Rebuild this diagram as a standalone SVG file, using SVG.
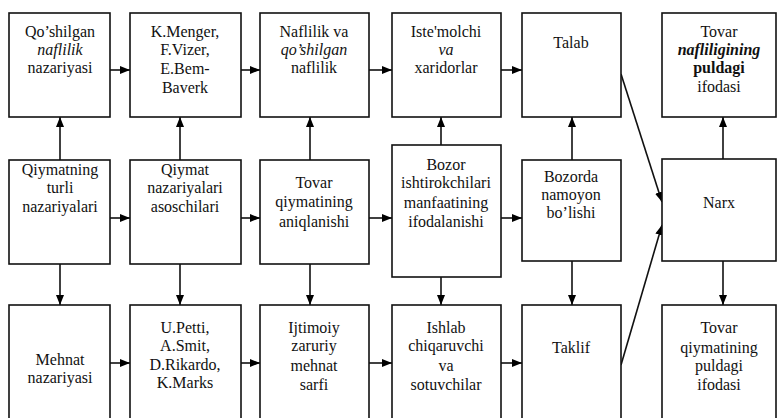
<svg xmlns="http://www.w3.org/2000/svg" width="778" height="418" viewBox="0 0 778 418">
<defs>
<marker id="ah" viewBox="0 0 10 8" refX="10" refY="4" markerWidth="10" markerHeight="8" markerUnits="userSpaceOnUse" orient="auto">
<path d="M0,0 L10,4 L0,8 Z" fill="#000"/>
</marker>
<style>
.box{fill:#fff;stroke:#111;stroke-width:1.6}
.t{font-family:Liberation Serif,DejaVu Serif,Times New Roman,Times,serif;font-size:16px;fill:#111;text-anchor:middle}
.b{font-weight:bold}
.i{font-style:italic}
.c{stroke:#111;stroke-width:1.6;fill:none;marker-end:url(#ah)}
</style>
</defs>
<rect width="778" height="418" fill="#fff"/>
<g id="connectors">
<line class="c" x1="110" y1="70" x2="130" y2="70"/>
<line class="c" x1="241" y1="70" x2="260" y2="70"/>
<line class="c" x1="369" y1="70" x2="392" y2="70"/>
<line class="c" x1="501" y1="70" x2="522" y2="70"/>
<line class="c" x1="110" y1="218" x2="130" y2="218"/>
<line class="c" x1="241" y1="218" x2="260" y2="218"/>
<line class="c" x1="369" y1="218" x2="392" y2="218"/>
<line class="c" x1="501" y1="218" x2="522" y2="218"/>
<line class="c" x1="110" y1="363" x2="130" y2="363"/>
<line class="c" x1="241" y1="363" x2="260" y2="363"/>
<line class="c" x1="369" y1="363" x2="392" y2="363"/>
<line class="c" x1="501" y1="363" x2="522" y2="363"/>
<line class="c" x1="60" y1="160" x2="60" y2="117"/>
<line class="c" x1="180" y1="160" x2="180" y2="117"/>
<line class="c" x1="310" y1="160" x2="310" y2="117"/>
<line class="c" x1="441" y1="145" x2="441" y2="117"/>
<line class="c" x1="572" y1="160" x2="572" y2="117"/>
<line class="c" x1="723" y1="159" x2="723" y2="117"/>
<line class="c" x1="60" y1="264" x2="60" y2="305"/>
<line class="c" x1="180" y1="264" x2="180" y2="305"/>
<line class="c" x1="310" y1="264" x2="310" y2="305"/>
<line class="c" x1="441" y1="277" x2="441" y2="305"/>
<line class="c" x1="572" y1="261" x2="572" y2="305"/>
<line class="c" x1="723" y1="261" x2="723" y2="305"/>
<line class="c" x1="621" y1="74" x2="662" y2="202"/>
<line class="c" x1="621" y1="365" x2="662" y2="225"/>
</g>
<g id="nodes">
<g id="n1"><rect class="box" x="9" y="13" width="101" height="104"/>
<text class="t" x="60" y="37">Qo’shilgan</text><text class="t i" x="60" y="55">naflilik</text><text class="t" x="60" y="73">nazariyasi</text></g>
<g id="n2"><rect class="box" x="130" y="13" width="111" height="104"/>
<text class="t" x="185" y="37">K.Menger,</text><text class="t" x="185" y="55">F.Vizer,</text><text class="t" x="185" y="74">E.Bem-</text><text class="t" x="185" y="93">Baverk</text></g>
<g id="n3"><rect class="box" x="260" y="13" width="109" height="104"/>
<text class="t" x="314" y="37">Naflilik va</text><text class="t i" x="314" y="55">qo’shilgan</text><text class="t" x="314" y="73">naflilik</text></g>
<g id="n4"><rect class="box" x="392" y="13" width="109" height="104"/>
<text class="t" x="446" y="37">Iste'molchi</text><text class="t i" x="446" y="55">va</text><text class="t" x="446" y="73">xaridorlar</text></g>
<g id="n5"><rect class="box" x="522" y="13" width="99" height="104"/>
<text class="t" x="571" y="48">Talab</text></g>
<g id="n6"><rect class="box" x="662" y="13" width="114" height="104"/>
<text class="t" x="719" y="37">Tovar</text><text class="t i b" x="719" y="55">nafliligining</text><text class="t b" x="719" y="73">puldagi</text><text class="t" x="719" y="92">ifodasi</text></g>
<g id="n7"><rect class="box" x="9" y="160" width="101" height="104"/>
<text class="t" x="60" y="175">Qiymatning</text><text class="t" x="60" y="193">turli</text><text class="t" x="60" y="212">nazariyalari</text></g>
<g id="n8"><rect class="box" x="130" y="160" width="111" height="104"/>
<text class="t" x="185" y="175">Qiymat</text><text class="t" x="185" y="193">nazariyalari</text><text class="t" x="185" y="212">asoschilari</text></g>
<g id="n9"><rect class="box" x="260" y="160" width="109" height="104"/>
<text class="t" x="314" y="188">Tovar</text><text class="t" x="314" y="207">qiymatining</text><text class="t" x="314" y="227">aniqlanishi</text></g>
<g id="n10"><rect class="box" x="392" y="145" width="109" height="132"/>
<text class="t" x="446" y="170">Bozor</text><text class="t" x="446" y="188">ishtirokchilari</text><text class="t" x="446" y="208">manfaatining</text><text class="t" x="446" y="227">ifodalanishi</text></g>
<g id="n11"><rect class="box" x="522" y="160" width="99" height="101"/>
<text class="t" x="571" y="182">Bozorda</text><text class="t" x="571" y="200">namoyon</text><text class="t" x="571" y="218">bo’lishi</text></g>
<g id="n12"><rect class="box" x="662" y="159" width="114" height="102"/>
<text class="t" x="719" y="208">Narx</text></g>
<g id="n13"><rect class="box" x="9" y="305" width="101" height="120"/>
<text class="t" x="60" y="365">Mehnat</text><text class="t" x="60" y="383">nazariyasi</text></g>
<g id="n14"><rect class="box" x="130" y="305" width="111" height="120"/>
<text class="t" x="185" y="333">U.Petti,</text><text class="t" x="185" y="351">A.Smit,</text><text class="t" x="185" y="370">D.Rikardo,</text><text class="t" x="185" y="388">K.Marks</text></g>
<g id="n15"><rect class="box" x="260" y="305" width="109" height="120"/>
<text class="t" x="314" y="333">Ijtimoiy</text><text class="t" x="314" y="351">zaruriy</text><text class="t" x="314" y="371">mehnat</text><text class="t" x="314" y="390">sarfi</text></g>
<g id="n16"><rect class="box" x="392" y="305" width="109" height="120"/>
<text class="t" x="446" y="333">Ishlab</text><text class="t" x="446" y="351">chiqaruvchi</text><text class="t" x="446" y="371">va</text><text class="t" x="446" y="390">sotuvchilar</text></g>
<g id="n17"><rect class="box" x="522" y="305" width="99" height="120"/>
<text class="t" x="571" y="353">Taklif</text></g>
<g id="n18"><rect class="box" x="662" y="305" width="114" height="120"/>
<text class="t" x="719" y="333">Tovar</text><text class="t" x="719" y="353">qiymatining</text><text class="t" x="719" y="371">puldagi</text><text class="t" x="719" y="390">ifodasi</text></g>
</g>
</svg>
